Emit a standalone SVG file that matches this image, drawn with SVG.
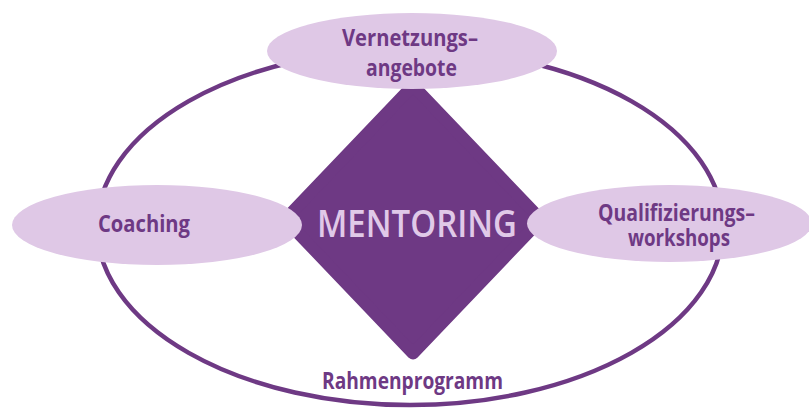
<svg xmlns="http://www.w3.org/2000/svg" width="809" height="408" viewBox="0 0 809 408">
  <style>
    .frame { fill: none; stroke: #6e3984; stroke-width: 4.5; }
    .core { fill: #6e3984; stroke: #6e3984; stroke-width: 12; stroke-linejoin: round; }
    .bubble { fill: #dfc8e6; }
    .label { font-family: "Open Sans", "Liberation Sans", sans-serif; font-weight: 700; font-size: 23px; fill: #6e3984; text-anchor: middle; }
    .core-label { font-family: "Open Sans", "Liberation Sans", sans-serif; font-weight: 600; font-size: 37px; fill: #e0c9e8; text-anchor: middle; }
  </style>
  <rect width="809" height="408" fill="#ffffff"/>

  <!-- outer programme ring -->
  <g id="connectors">
    <ellipse class="frame" cx="410" cy="227" rx="313" ry="178"/>
  </g>

  <!-- central mentoring diamond -->
  <g id="mentoring">
    <polygon class="core" points="413,85.5 541,219.5 413,353.5 285,219.5"/>
    <text class="core-label" x="417" y="237" textLength="200" lengthAdjust="spacingAndGlyphs">MENTORING</text>
  </g>

  <g id="vernetzung">
    <ellipse class="bubble" cx="412" cy="51" rx="145" ry="38"/>
    <text class="label" x="410" y="46" textLength="136" lengthAdjust="spacingAndGlyphs">Vernetzungs–</text>
    <text class="label" x="411.5" y="76" textLength="91" lengthAdjust="spacingAndGlyphs">angebote</text>
  </g>

  <g id="coaching">
    <ellipse class="bubble" cx="157" cy="225" rx="145" ry="40"/>
    <text class="label" x="144" y="232" textLength="92" lengthAdjust="spacingAndGlyphs">Coaching</text>
  </g>

  <g id="qualifizierung">
    <ellipse class="bubble" cx="669.5" cy="223.5" rx="142.5" ry="38.5"/>
    <text class="label" x="676.5" y="221" textLength="157" lengthAdjust="spacingAndGlyphs">Qualifizierungs–</text>
    <text class="label" x="679" y="246" textLength="102" lengthAdjust="spacingAndGlyphs">workshops</text>
  </g>

  <g id="rahmenprogramm">
    <text class="label" x="412.5" y="389" textLength="181" lengthAdjust="spacingAndGlyphs">Rahmenprogramm</text>
  </g>
</svg>
